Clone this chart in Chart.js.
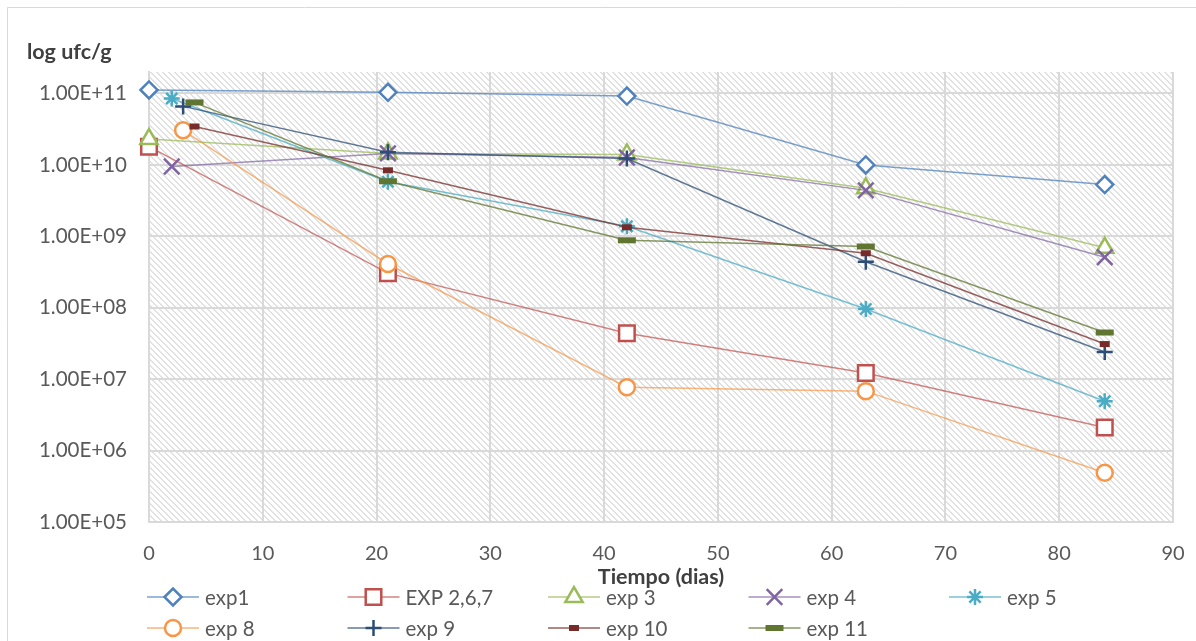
<!DOCTYPE html>
<html>
<head>
<meta charset="utf-8">
<script src="https://cdn.jsdelivr.net/npm/chart.js@4.4.1/dist/chart.umd.min.js"></script>
<style>
  html, body { margin: 0; padding: 0; background: #fff; }
  #wrap { width: 1196px; height: 641px; }
</style>
</head>
<body>
<div id="wrap"><canvas id="curva" width="1196" height="641"></canvas></div>
<script>
// dias de muestreo (el primer punto cambia segun el experimento)
const diasA = [0, 21, 42, 63, 84];
const diasB = [2, 21, 42, 63, 84];
const diasC = [3, 21, 42, 63, 84];
const diasD = [4, 21, 42, 63, 84];

// log ufc/g por experimento
const exp1 = [1.12e11, 1.04e11, 9.2e10, 1.0e10, 5.3e9];
const exp267 = [1.8e10, 3.05e8, 4.4e7, 1.22e7, 2.1e6];
const exp3 = [2.3e10, 1.45e10, 1.4e10, 4.7e9, 6.9e8];
const exp4 = [9.5e9, 1.45e10, 1.27e10, 4.4e9, 5.1e8];
const exp5 = [8.5e10, 5.8e9, 1.38e9, 9.6e7, 4.9e6];
const exp8 = [3.05e10, 4.1e8, 7.7e6, 6.8e6, 4.9e5];
const exp9 = [6.6e10, 1.5e10, 1.23e10, 4.4e8, 2.4e7];
const exp10 = [3.45e10, 8.4e9, 1.34e9, 5.8e8, 3.1e7];
const exp11 = [7.5e10, 5.9e9, 8.8e8, 7.2e8, 4.5e7];

const yTicks = [1e5, 1e6, 1e7, 1e8, 1e9, 1e10, 1e11];
const yTickLabels = ["1.00E+05", "1.00E+06", "1.00E+07", "1.00E+08", "1.00E+09", "1.00E+10", "1.00E+11"];

const FONT = "Lato, 'Open Sans', sans-serif";
const GRAY = "#595959";

function pts(xs, ys) {
  return xs.map((x, i) => ({ x: x, y: ys[i] }));
}

function serie(label, xs, ys, color, lineColor, style, radius, bw, fill, n) {
  return {
    label: label,
    data: pts(xs, ys),
    borderColor: lineColor,
    borderWidth: 1.5,
    pointStyle: style,
    pointRadius: radius,
    pointBorderWidth: bw,
    pointBorderColor: color,
    pointBackgroundColor: fill ? "#ffffff" : color,
    tension: 0,
    clip: false,
    order: 20 - n,
  };
}

// rayado diagonal del area de trazado
function hatch(ctx) {
  const c = document.createElement("canvas");
  c.width = 6;
  c.height = 6;
  const g = c.getContext("2d");
  g.fillStyle = "#ffffff";
  g.fillRect(0, 0, 6, 6);
  g.fillStyle = "#e1e1e1";
  for (let i = -6; i < 12; i++) {
    g.fillRect(i, i, 2, 1);
    g.fillRect(i + 6, i, 2, 1);
    g.fillRect(i - 6, i, 2, 1);
  }
  return ctx.createPattern(c, "repeat");
}

const fondo = {
  id: "fondo",
  beforeDraw(chart) {
    const { ctx, chartArea: a } = chart;
    ctx.save();
    ctx.fillStyle = "#ffffff";
    ctx.fillRect(0, 0, chart.width, chart.height);
    ctx.strokeStyle = "#d9d9d9";
    ctx.lineWidth = 1;
    ctx.beginPath();
    ctx.moveTo(7.5, 700);
    ctx.lineTo(7.5, 7.5);
    ctx.lineTo(1196, 7.5);
    ctx.stroke();
    ctx.fillStyle = hatch(ctx);
    ctx.fillRect(a.left, a.top, a.right - a.left, a.bottom - a.top);
    ctx.restore();
  },
  afterDraw(chart) {
    const ctx = chart.ctx;
    ctx.save();
    ctx.fillStyle = "#404040";
    ctx.font = "bold 21.5px " + FONT;
    ctx.textBaseline = "middle";
    ctx.textAlign = "left";
    ctx.fillText("log ufc/g", 27, 52);

    // leyenda
    ctx.font = "20.5px " + FONT;
    chart.data.datasets.forEach((ds, i) => {
      const row = i < 5 ? 0 : 1;
      const col = i < 5 ? i : i - 5;
      const mx = 173 + col * 200.5;
      const my = row === 0 ? 597 : 628;
      ctx.strokeStyle = ds.borderColor;
      ctx.lineWidth = 1.5;
      ctx.beginPath();
      ctx.moveTo(mx - 26, my);
      ctx.lineTo(mx + 26, my);
      ctx.stroke();
      ctx.strokeStyle = ds.pointBorderColor;
      ctx.fillStyle = ds.pointBackgroundColor;
      ctx.lineWidth = ds.pointBorderWidth;
      Chart.helpers.drawPoint(ctx, {
        pointStyle: ds.pointStyle,
        radius: ds.pointRadius,
        rotation: 0,
        borderWidth: ds.pointBorderWidth,
      }, mx, my);
      ctx.fillStyle = GRAY;
      ctx.fillText(ds.label, mx + 32, my + 1);
    });
    ctx.restore();
  },
};

const ctx = document.getElementById("curva");

new Chart(ctx, {
  type: "line",
  data: {
    datasets: [
      serie("exp1", diasA, exp1, "#4F81BD", "rgba(79,129,189,0.75)", "rectRot", 8.5, 2.5, true, 0),
      serie("EXP 2,6,7", diasA, exp267, "#C0504D", "rgba(192,80,77,0.7)", "rect", 11, 2.5, true, 1),
      serie("exp 3", diasA, exp3, "#9BBB59", "rgba(155,187,89,0.75)", "triangle", 10, 2.5, true, 2),
      serie("exp 4", diasB, exp4, "#8064A2", "rgba(128,100,162,0.7)", "crossRot", 11, 2.5, false, 3),
      serie("exp 5", diasB, exp5, "#4BACC6", "rgba(75,172,198,0.75)", "star", 8, 2.5, false, 4),
      serie("exp 8", diasC, exp8, "#F79646", "rgba(247,150,70,0.7)", "circle", 8, 2.5, true, 5),
      serie("exp 9", diasC, exp9, "#2C4D75", "rgba(44,77,117,0.75)", "cross", 8, 2.5, false, 6),
      serie("exp 10", diasD, exp10, "#772C2A", "rgba(119,44,42,0.75)", "line", 5, 6, false, 7),
      serie("exp 11", diasD, exp11, "#5F7530", "rgba(95,117,48,0.75)", "line", 9, 6, false, 8),
    ],
  },
  options: {
    responsive: false,
    animation: false,
    devicePixelRatio: 1,
    events: [],
    layout: {
      padding: { top: 72, right: 23, left: 0, bottom: 0 },
    },
    plugins: {
      legend: { display: false },
      tooltip: { enabled: false },
    },
    scales: {
      x: {
        type: "linear",
        min: 0,
        max: 90,
        ticks: {
          stepSize: 10,
          padding: 20,
          color: GRAY,
          font: { family: FONT, size: 20 },
        },
        grid: { color: "#d9d9d9", lineWidth: 2, drawTicks: false },
        border: { color: "#d9d9d9", width: 2 },
        title: {
          display: true,
          text: "Tiempo (dias)",
          color: "#404040",
          font: { family: FONT, size: 21.5, weight: "bold" },
          padding: { top: 0, bottom: 51 },
        },
        afterFit(scale) {
          scale.height = 119;
          scale.paddingLeft = 0;
          scale.paddingRight = 0;
        },
      },
      y: {
        type: "logarithmic",
        min: 1e5,
        max: 2e11,
        afterBuildTicks(scale) {
          scale.ticks = yTicks.map((v) => ({ value: v }));
        },
        ticks: {
          padding: 22,
          color: GRAY,
          font: { family: FONT, size: 20.5 },
          callback: (v) => yTickLabels[yTicks.indexOf(v)] || "",
        },
        grid: { color: "#d9d9d9", lineWidth: 2, drawTicks: false },
        border: { color: "#d9d9d9", width: 2 },
        afterFit(scale) {
          scale.width = 149;
          scale.paddingTop = 0;
          scale.paddingBottom = 0;
        },
      },
    },
  },
  plugins: [fondo],
});
</script>
</body>
</html>
